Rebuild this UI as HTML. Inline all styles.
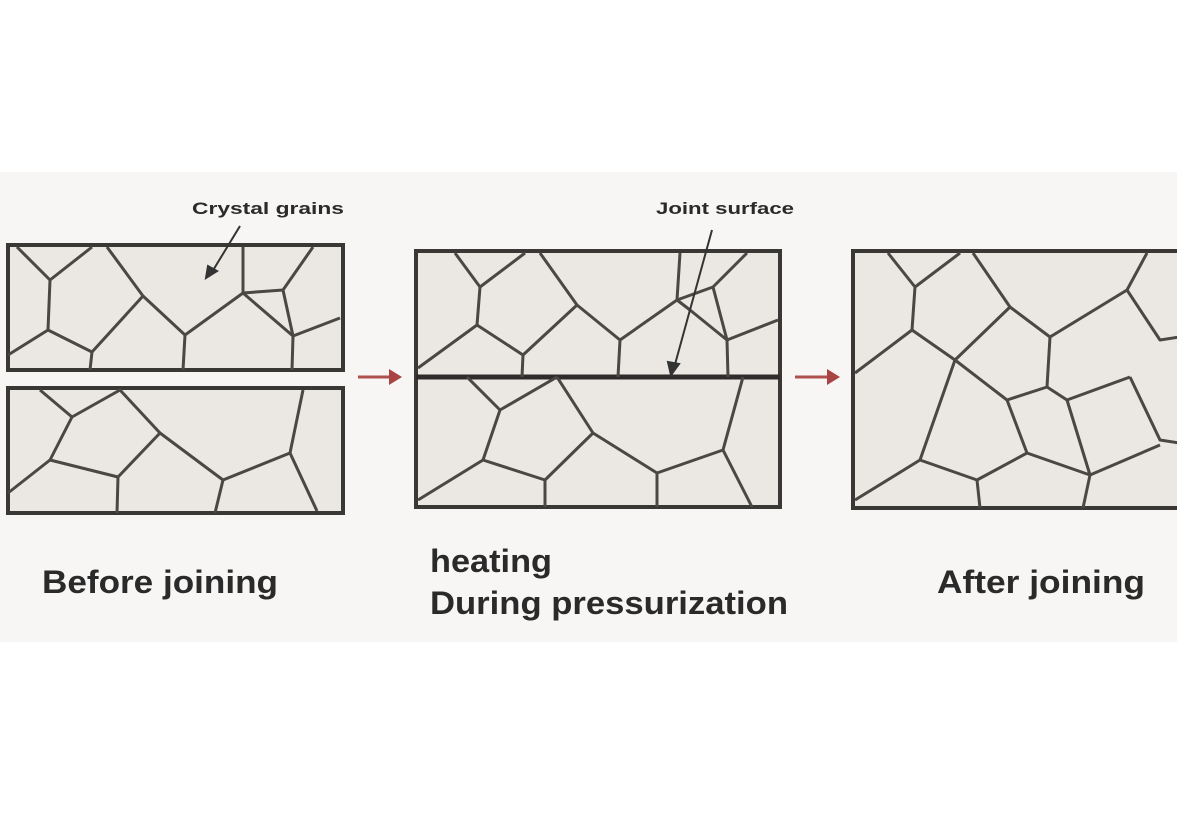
<!DOCTYPE html>
<html><head><meta charset="utf-8"><style>
html,body{margin:0;padding:0;background:#fff;width:1192px;height:839px;overflow:hidden}
text{font-family:"Liberation Sans Narrow","Liberation Sans",sans-serif;font-weight:bold;fill:#2a2a2a}
</style></head><body>
<svg width="1192" height="839" viewBox="0 0 1192 839" xmlns="http://www.w3.org/2000/svg">
<defs><clipPath id="c"><rect x="0" y="0" width="1177" height="839"/></clipPath></defs>
<rect x="0" y="172" width="1177" height="470" fill="#f7f6f4"/>
<g clip-path="url(#c)">
<g fill="#ebe8e3" stroke="#3a3835" stroke-width="4">
<rect x="8" y="245" width="335" height="125"/>
<rect x="8" y="388" width="335" height="125"/>
<rect x="416" y="251" width="364" height="256"/>
<rect x="853" y="251" width="340" height="257"/>
</g>
<line x1="416" y1="377" x2="780" y2="377" stroke="#2e2c2a" stroke-width="5"/>
<g fill="none" stroke="#4a4744" stroke-width="3" stroke-linejoin="round">
<polyline points="17,247 50,280 92,247"/>
<polyline points="50,280 48,330 8,355"/>
<polyline points="48,330 92,352 90,370"/>
<polyline points="92,352 143,296 107,247"/>
<polyline points="143,296 185,335 183,370"/>
<polyline points="185,335 243,293 243,247"/>
<polyline points="243,293 283,290 313,247"/>
<polyline points="243,293 293,336 292,370"/>
<polyline points="283,290 293,336 340,318"/>
<polyline points="40,390 72,417 120,390 160,433"/>
<polyline points="72,417 50,460 8,493"/>
<polyline points="50,460 118,477 117,513"/>
<polyline points="118,477 160,433 223,480 290,453 303,390"/>
<polyline points="223,480 215,513"/>
<polyline points="290,453 317,511"/>
<polyline points="455,253 480,287 525,253"/>
<polyline points="480,287 477,325 418,368"/>
<polyline points="477,325 523,355 522,377"/>
<polyline points="523,355 577,305 540,253"/>
<polyline points="577,305 620,340 618,377"/>
<polyline points="620,340 677,300 680,253"/>
<polyline points="677,300 713,287 747,253"/>
<polyline points="713,287 727,340 728,377"/>
<polyline points="727,340 778,320"/>
<polyline points="677,300 690,310 727,340"/>
<polyline points="467,377 500,410 557,377"/>
<polyline points="500,410 483,460 418,500"/>
<polyline points="483,460 545,480 545,507"/>
<polyline points="545,480 593,433 557,377"/>
<polyline points="593,433 657,473 657,507"/>
<polyline points="657,473 723,450 743,377"/>
<polyline points="723,450 752,507"/>
<polyline points="888,253 915,287 960,253"/>
<polyline points="915,287 912,330 855,373"/>
<polyline points="912,330 955,360 1010,307 973,253"/>
<polyline points="1010,307 1050,337 1127,290 1147,253"/>
<polyline points="1127,290 1160,340 1192,335"/>
<polyline points="955,360 920,460 855,500"/>
<polyline points="955,360 1007,400 1047,387 1067,400 1130,377"/>
<polyline points="1050,337 1047,387"/>
<polyline points="1130,377 1160,440 1192,445"/>
<polyline points="1007,400 1027,453 1090,475 1067,400"/>
<polyline points="920,460 977,480 1027,453"/>
<polyline points="977,480 980,508"/>
<polyline points="1090,475 1160,445"/>
<polyline points="1090,475 1083,508"/>
</g>
</g>
<g stroke="#333" stroke-width="2" fill="#333">
<line x1="240" y1="226" x2="212" y2="272"/>
<polygon points="206,278 208,266 217,271"/>
<line x1="712" y1="230" x2="674" y2="368"/>
<polygon points="671,375 668,362 679,364"/>
</g>
<g stroke="#b0504e" stroke-width="3" fill="#a84444">
<line x1="358" y1="377" x2="393" y2="377"/>
<polygon points="402,377 389,369 389,385" stroke="none"/>
<line x1="795" y1="377" x2="830" y2="377"/>
<polygon points="840,377 827,369 827,385" stroke="none"/>
</g>
<text x="192" y="214" font-size="17" textLength="152" lengthAdjust="spacingAndGlyphs">Crystal grains</text>
<text x="656" y="214" font-size="17" textLength="138" lengthAdjust="spacingAndGlyphs">Joint surface</text>
<text x="42" y="593" font-size="32" textLength="236" lengthAdjust="spacingAndGlyphs">Before joining</text>
<text x="430" y="572" font-size="32" textLength="122" lengthAdjust="spacingAndGlyphs">heating</text>
<text x="430" y="614" font-size="32" textLength="358" lengthAdjust="spacingAndGlyphs">During pressurization</text>
<text x="937" y="593" font-size="32" textLength="208" lengthAdjust="spacingAndGlyphs">After joining</text>
</svg>
</body></html>
